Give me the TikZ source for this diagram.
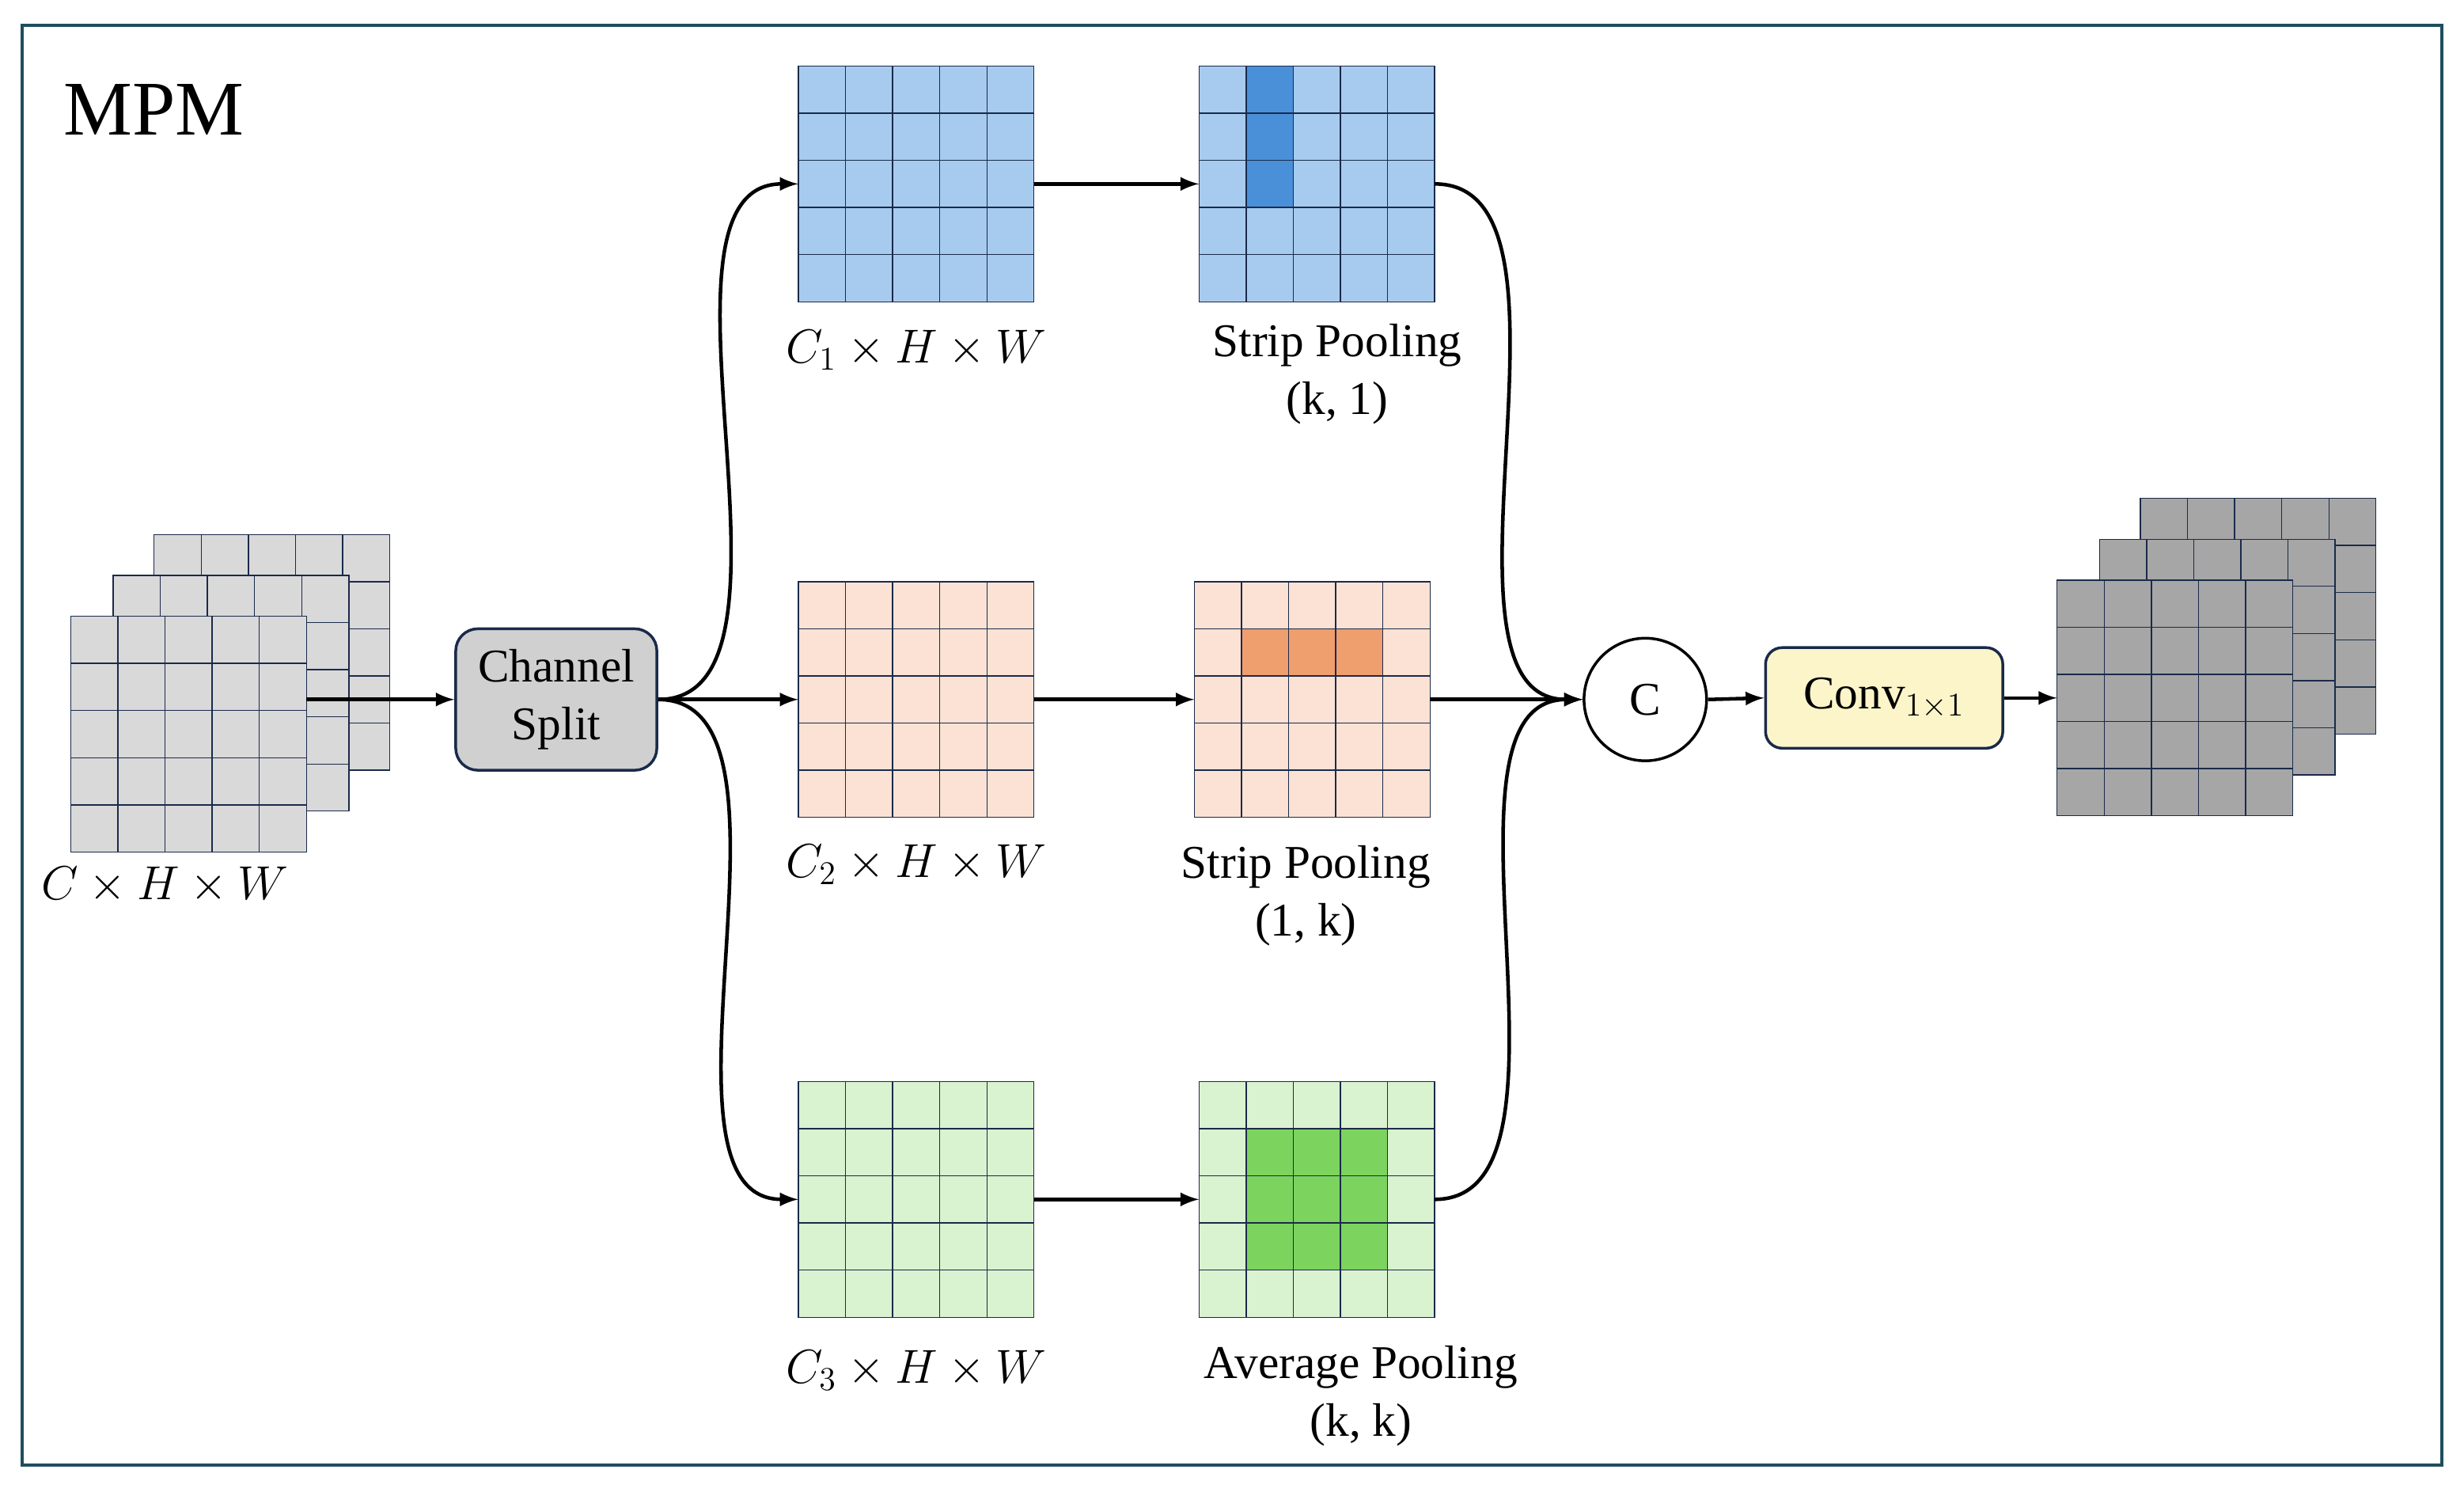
\documentclass[tikz,border=0pt]{standalone}
\usepackage{fontspec}
\setmainfont{Liberation Serif}
\usepackage{tikz}
\usetikzlibrary{calc}
\definecolor{FrameCol}{HTML}{1F4E5F}
\definecolor{LineCol}{HTML}{1A2A4A}
\definecolor{GrayA}{HTML}{D9D9D9}
\definecolor{GrayB}{HTML}{A6A6A6}
\definecolor{BlueA}{HTML}{A7CBEE}
\definecolor{BlueB}{HTML}{4A90D9}
\definecolor{PeachA}{HTML}{FBE2D4}
\definecolor{PeachB}{HTML}{EF9E6E}
\definecolor{GreenA}{HTML}{D9F2D0}
\definecolor{GreenB}{HTML}{7CD35E}
\definecolor{ConvCol}{HTML}{FBF5C9}
\definecolor{SplitCol}{HTML}{D0D0D0}
\newcommand\cellgrid[3]{% name, centre, fill
  \node[gridbox,fill=#3] (#1) at (#2) {};
  \foreach \k in {1,...,4}
  {
    \draw[LineCol,thin] ($(#1.north west)+(\k*30,0)$) -- ($(#1.south west)+(\k*30,0)$);
    \draw[LineCol,thin] ($(#1.north west)+(0,\k*30)$) -- ($(#1.north east)+(0,\k*30)$);
  }
  \draw[LineCol,thin] (#1.north west) rectangle (#1.south east);
}
\newcommand\hicell[4]{% grid, col, row, fill
  \fill[#4] ($(#1.north west)+(#2*30,#3*30)$) rectangle ++(30,30);
}
\begin{document}
\begin{tikzpicture}[x=0.02cm,y=-0.02cm,
  every node/.style={font=\fontsize{17}{21}\selectfont},
  gridbox/.style={draw=none,minimum size=3cm,inner sep=0pt,outer sep=0pt},
  arr/.style={->,>=latex,line width=1.3pt},
  lbl/.style={align=center}]
\useasboundingbox (0,0) rectangle (1568,949);
\draw[FrameCol,line width=1.2pt] (14,16) rectangle (1554,932);
\node[font=\fontsize{28}{32}\selectfont] (title) at (98,70) {MPM};

% input stack
\cellgrid{inC}{173,415}{GrayA}
\cellgrid{inB}{147,441}{GrayA}
\cellgrid{inA}{120,467}{GrayA}
\node (inlbl) at (105,563) {$C\times H\times W$};

\node[draw=LineCol,fill=SplitCol,rounded corners=8pt,line width=1pt,
  minimum width=2.56cm,minimum height=1.8cm,lbl] (split) at (354,445) {Channel\\Split};

% branches
\cellgrid{blue}{583,117}{BlueA}
\cellgrid{bluep}{838,117}{BlueA}
\foreach \r in {0,1,2} {\hicell{bluep}{1}{\r}{BlueB}}
\cellgrid{bluep}{838,117}{none}
\cellgrid{peach}{583,445}{PeachA}
\cellgrid{peachp}{835,445}{PeachA}
\foreach \c in {1,2,3} {\hicell{peachp}{\c}{1}{PeachB}}
\cellgrid{peachp}{835,445}{none}
\cellgrid{green}{583,763}{GreenA}
\cellgrid{greenp}{838,763}{GreenA}
\foreach \c in {1,2,3} {\foreach \r in {1,2,3} {\hicell{greenp}{\c}{\r}{GreenB}}}
\cellgrid{greenp}{838,763}{none}

\node (bluelbl) at (583,223) {$C_1\times H\times W$};
\node (peachlbl) at (583,550) {$C_2\times H\times W$};
\node (greenlbl) at (583,872) {$C_3\times H\times W$};
\node[lbl] (bluepl) at (851,238) {Strip Pooling\\(k, 1)};
\node[lbl] (peachpl) at (831,570) {Strip Pooling\\(1, k)};
\node[lbl] (greenpl) at (866,888) {Average Pooling\\(k, k)};

\node[draw,circle,line width=1pt,minimum size=1.56cm,inner sep=0pt] (cat) at (1047,445) {C};
\node[draw=LineCol,fill=ConvCol,rounded corners=6pt,line width=1pt,
  minimum width=3.02cm,minimum height=1.28cm] (conv) at (1199,444) {Conv$_{1\times1}$};

% output stack
\cellgrid{outC}{1437,392}{GrayB}
\cellgrid{outB}{1411,418}{GrayB}
\cellgrid{outA}{1384,444}{GrayB}

% connectors
\draw[arr] (inA.east) ++(0,-22) coordinate (inout) -- (inout -| split.west);
\draw[arr] (split.east) to[out=0,in=180,looseness=0.8] (blue.west);
\draw[arr] (split.east) -- (peach.west);
\draw[arr] (split.east) to[out=0,in=180,looseness=0.8] (green.west);
\draw[arr] (blue.east) -- (bluep.west);
\draw[arr] (peach.east) -- (peachp.west);
\draw[arr] (green.east) -- (greenp.west);
\draw[arr] (bluep.east) to[out=0,in=180,looseness=0.8] (cat.west);
\draw[arr] (peachp.east) -- (cat.west);
\draw[arr] (greenp.east) to[out=0,in=180,looseness=0.8] (cat.west);
\draw[arr] (cat.east) -- (conv.west);
\draw[arr] (conv.east) -- (conv.east -| outA.west);
\end{tikzpicture}
\end{document}
